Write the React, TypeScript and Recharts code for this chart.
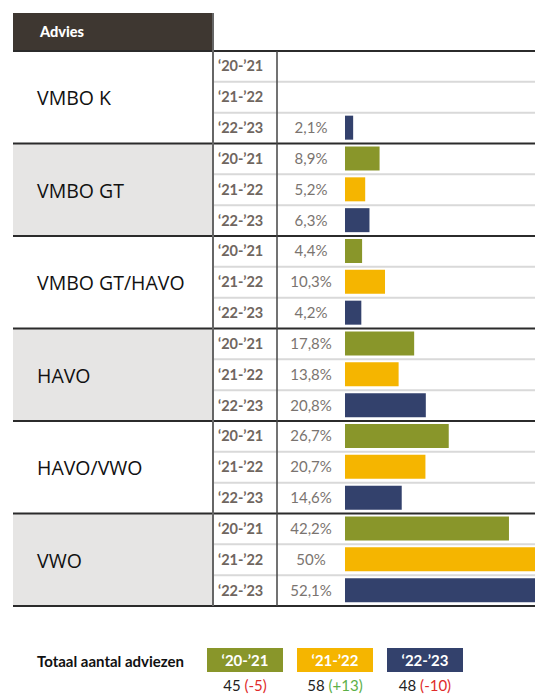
import { BarChart, Bar, XAxis, YAxis, Cell } from 'recharts';

// Table content
const groups = ['VMBO K', 'VMBO GT', 'VMBO GT/HAVO', 'HAVO', 'HAVO/VWO', 'VWO'];
const periods = ['‘20-’21', '‘21-’22', '‘22-’23'];
const values2021: (number | null)[] = [null, 8.9, 4.4, 17.8, 26.7, 42.2];
const values2122: (number | null)[] = [null, 5.2, 10.3, 13.8, 20.7, 50];
const values2223: (number | null)[] = [2.1, 6.3, 4.2, 20.8, 14.6, 52.1];

// Totals legend
const totals = [45, 58, 48];
const totalChanges = ['-5', '+13', '-10'];

const COLORS = ['#89962a', '#f5b500', '#33416c'];
const HEADER = '#3e3731';
const GRAY_BG = '#e6e5e4';

const TOP = 51;
const TABLE_H = 555;
const ROW_H = TABLE_H / (groups.length * 3);
const GROUP_H = ROW_H * 3;

const rows = groups.flatMap((g, gi) =>
  [values2021[gi], values2122[gi], values2223[gi]].map((v, pi) => ({
    key: `${g}-${pi}`,
    period: periods[pi],
    value: v,
    colorIdx: pi,
  }))
);

const fmt = (v: number | null) =>
  v == null ? '' : `${String(v).replace('.', ',')}%`;

const RowTick = ({ y, payload }: any) => {
  const row = rows.find(r => r.key === payload.value);
  if (!row) return null;
  return (
    <g>
      <text
        x={5}
        y={y}
        dy={5}
        fontFamily="Lato"
        fontWeight={700}
        fontSize={14.5}
        fill="#6f6660"
      >
        {row.period}
      </text>
      <text
        x={98}
        y={y}
        dy={5}
        textAnchor="middle"
        fontFamily="Lato"
        fontSize={15}
        fill="#7a7470"
      >
        {fmt(row.value)}
      </text>
    </g>
  );
};

export default function App() {
  return (
    <div
      style={{
        position: 'absolute',
        left: 0,
        top: 0,
        width: 535,
        height: 695,
        background: '#fff',
        fontFamily: 'Lato',
        overflow: 'hidden',
      }}
    >
      {/* table background and grid */}
      <svg width={535} height={695} style={{ position: 'absolute', left: 0, top: 0 }}>
        <rect x={13} y={13} width={200} height={38} fill={HEADER} />
        <text x={40} y={37} fill="#fff" fontFamily="Lato" fontWeight={900} fontSize={14.5}>
          Advies
        </text>
        {groups.map((g, gi) => (
          <g key={g}>
            {gi % 2 === 1 && (
              <rect x={13} y={TOP + gi * GROUP_H} width={200} height={GROUP_H} fill={GRAY_BG} />
            )}
            <text
              x={37}
              y={TOP + gi * GROUP_H + GROUP_H / 2 + 8}
              fontFamily="Open Sans"
              fontSize={19.5}
              fill="#111"
            >
              {g}
            </text>
            {[1, 2].map(k => (
              <line
                key={k}
                x1={213}
                x2={535}
                y1={TOP + gi * GROUP_H + k * ROW_H}
                y2={TOP + gi * GROUP_H + k * ROW_H}
                stroke="#d9d9d9"
                strokeWidth={2}
              />
            ))}
          </g>
        ))}
        {groups.map((g, gi) => (
          <line
            key={`b-${g}`}
            x1={13}
            x2={535}
            y1={TOP + gi * GROUP_H}
            y2={TOP + gi * GROUP_H}
            stroke="#2b2b2b"
            strokeWidth={2}
          />
        ))}
        <line x1={13} x2={535} y1={TOP + TABLE_H} y2={TOP + TABLE_H} stroke="#2b2b2b" strokeWidth={2} />
        <line x1={213} x2={213} y1={13} y2={TOP + TABLE_H} stroke="#666" strokeWidth={2} />
        <line x1={277} x2={277} y1={TOP} y2={TOP + TABLE_H} stroke="#444" strokeWidth={1.5} />
      </svg>

      {/* bars */}
      <div style={{ position: 'absolute', left: 213, top: TOP }}>
        <BarChart
          width={322}
          height={TABLE_H}
          data={rows}
          layout="vertical"
          margin={{ top: 0, right: 0, bottom: 0, left: 0 }}
          barCategoryGap={0}
        >
          <XAxis type="number" hide domain={[0, 48.9]} allowDataOverflow />
          <YAxis
            type="category"
            dataKey="key"
            width={132}
            interval={0}
            axisLine={false}
            tickLine={false}
            tick={<RowTick />}
          />
          <Bar dataKey="value" barSize={24} isAnimationActive={false}>
            {rows.map(r => (
              <Cell key={r.key} fill={COLORS[r.colorIdx]} />
            ))}
          </Bar>
        </BarChart>
      </div>

      {/* totals legend */}
      <div
        style={{
          position: 'absolute',
          left: 37,
          top: 652,
          fontSize: 15,
          fontWeight: 700,
          color: '#111',
        }}
      >
        Totaal aantal adviezen
      </div>
      {periods.map((p, i) => (
        <div key={p}>
          <div
            style={{
              position: 'absolute',
              left: 207 + i * 90,
              top: 648,
              width: 76,
              height: 24,
              background: COLORS[i],
              color: '#fff',
              fontWeight: 700,
              fontSize: 15,
              lineHeight: '24px',
              textAlign: 'center',
            }}
          >
            {p}
          </div>
          <div
            style={{
              position: 'absolute',
              left: 207 + i * 90,
              top: 676,
              width: 76,
              fontSize: 15,
              textAlign: 'center',
              color: '#222',
            }}
          >
            {totals[i]}{' '}
            <span style={{ color: totalChanges[i].startsWith('+') ? '#5cb047' : '#e02b2b' }}>
              ({totalChanges[i]})
            </span>
          </div>
        </div>
      ))}
    </div>
  );
}
